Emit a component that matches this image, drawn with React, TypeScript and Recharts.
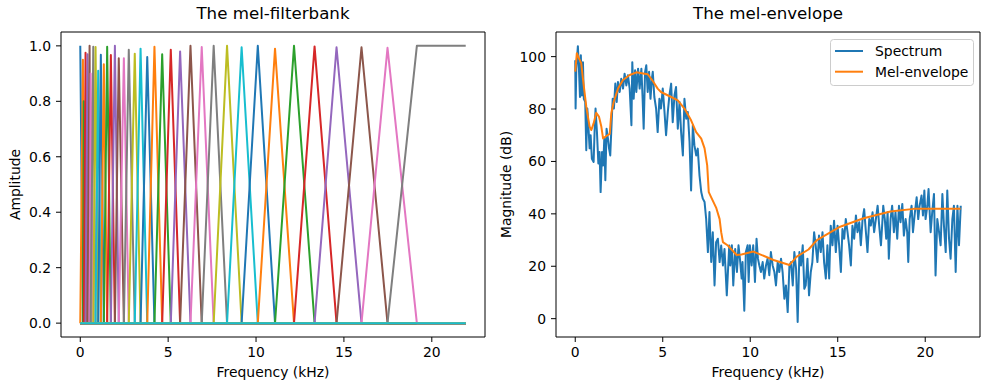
import React from 'react';
import { LineChart, Line, XAxis, YAxis, Legend } from 'recharts';

// ---------------- data ----------------
const TAB10 = ['#1f77b4', '#ff7f0e', '#2ca02c', '#d62728', '#9467bd', '#8c564b', '#e377c2', '#7f7f7f', '#bcbd22', '#17becf'];

// mel-filterbank: centre frequency (kHz) and peak height of each triangular filter
const filterCenters = [
  0, 0.15, 0.2, 0.3, 0.41, 0.53, 0.59, 0.74, 0.87, 1.02,
  1.17, 1.34, 1.53, 1.74, 1.97, 2.19, 2.48, 2.76, 3.1, 3.43,
  3.81, 4.22, 4.66, 5.15, 5.68, 6.27, 6.91, 7.59, 8.35, 9.18,
  10.1, 11.08, 12.16, 13.33, 14.58, 16.0, 17.48, 19.15,
];
const filterPeaks = [
  1.0, 0.95, 0.8, 0.975, 0.97, 1.0, 0.9, 0.997, 0.996, 0.91,
  0.968, 0.934, 0.997, 0.967, 1.0, 0.955, 0.955, 0.986, 0.972, 0.99,
  0.96, 0.997, 0.97, 0.986, 0.98, 1.0, 0.996, 1.0, 1.0, 0.995,
  1.0, 0.99, 1.0, 0.998, 0.995, 0.995, 0.993, 1.0,
];
const filterbankMaxFreq = 21.93; // kHz, last frequency bin of the filterbank plot
const emptyFilterCount = 2; // filters that are zero everywhere

// spectrum (kHz, dB)
const specFreq = [
  0.0, 0.02, 0.06, 0.15, 0.21, 0.27, 0.32, 0.38, 0.44, 0.49,
  0.57, 0.63, 0.69, 0.76, 0.82, 0.88, 0.95, 1.05, 1.11, 1.16,
  1.24, 1.32, 1.39, 1.45, 1.53, 1.6, 1.66, 1.72, 1.79, 1.87,
  1.93, 2.0, 2.08, 2.14, 2.21, 2.29, 2.37, 2.44, 2.54, 2.63,
  2.73, 2.82, 2.92, 3.01, 3.11, 3.21, 3.26, 3.34, 3.42, 3.49,
  3.59, 3.68, 3.78, 3.85, 3.91, 3.99, 4.06, 4.14, 4.22,
  4.3, 4.38, 4.43, 4.52, 4.62, 4.71, 4.81, 4.9, 5.0, 5.1,
  5.19, 5.29, 5.38, 5.48, 5.57, 5.67, 5.76, 5.86, 5.96, 6.05,
  6.15, 6.24, 6.34, 6.43, 6.53, 6.62, 6.72, 6.81, 6.91, 7.0,
  7.1, 7.2, 7.29, 7.39, 7.48, 7.58, 7.67, 7.77, 7.86, 7.96,
  8.05, 8.15, 8.25, 8.34, 8.44, 8.53, 8.66,
  8.8, 8.86, 8.95, 9.03, 9.14, 9.24, 9.33, 9.41, 9.51, 9.56,
  9.66, 9.75, 9.85, 9.91, 9.98, 10.08, 10.17, 10.27, 10.36, 10.44,
  10.52, 10.61, 10.71, 10.8, 10.9, 10.99, 11.09, 11.18, 11.28, 11.38,
  11.47, 11.57, 11.66, 11.76, 11.85, 11.95, 12.04, 12.14, 12.24, 12.33,
  12.43, 12.52, 12.62, 12.71, 12.81, 12.9, 13.0, 13.09,
  13.17, 13.27, 13.36, 13.46, 13.55, 13.65, 13.74, 13.84, 13.93, 14.03,
  14.13, 14.22, 14.32, 14.41, 14.51, 14.6, 14.7, 14.79, 14.89, 14.99,
  15.08, 15.18, 15.27, 15.37, 15.46, 15.56, 15.65, 15.75, 15.84, 15.94,
  16.04, 16.13, 16.23, 16.32, 16.42, 16.51, 16.61, 16.7, 16.8, 16.89,
  16.99, 17.08, 17.18, 17.28, 17.37, 17.47, 17.56,
  17.6, 17.69, 17.77, 17.85, 17.92, 18.02, 18.11, 18.21, 18.3, 18.4,
  18.5, 18.59, 18.69, 18.78, 18.88, 18.97, 19.03, 19.11, 19.22, 19.3,
  19.41, 19.51, 19.6, 19.68, 19.79, 19.87, 19.95, 20.02, 20.12, 20.19,
  20.31, 20.4, 20.5, 20.59, 20.69, 20.79, 20.88, 20.98, 21.07, 21.17,
  21.26, 21.36, 21.45, 21.55, 21.64, 21.74, 21.84, 21.93, 22.03,
];
const specDb = [
  98.6, 80.2, 95.4, 104, 95.4, 84.6, 100.5, 85.2, 97.9, 83.9,
  82.7, 64.3, 80.2, 72.5, 65, 70, 61, 59.8, 72.5, 80.2,
  71.2, 59.2, 63.6, 48.3, 63.6, 58.5, 68.7, 52.8, 72.5, 68.7,
  65, 62.3, 75, 83.9, 80.2, 89.7, 82.7, 90.3, 86.5, 91.6,
  87.8, 93.5, 89, 92.9, 87.8, 73.8, 97.9, 83.9, 94.8, 86.5,
  95.4, 87.8, 95.4, 83.9, 72.5, 94.2, 96.7, 86.5, 94.2,
  83.9, 91.6, 94.2, 84.6, 80.2, 71.2, 83.9, 80.2, 87.8, 78.9,
  70, 78.9, 85.2, 89.7, 75, 85.2, 88.4, 72.5, 82.7, 71.2,
  62.3, 83.9, 76.3, 78.9, 67.5, 48.9, 73.8, 66.2, 62.3, 64.9,
  54.7, 48.3, 45.8, 44.5, 38.2, 25.4, 40.7, 21.6, 33, 12.7,
  29.2, 30.5, 21.6, 27.9, 20.3, 26.6, 8.9,
  27.9, 20.3, 28, 12.7, 26.6, 17.8, 28, 22.9, 15.3, 21.6,
  3, 25.4, 28, 14, 28, 20.3, 28, 14, 30.5, 22.9,
  20.3, 17.8, 21.6, 15.3, 20.3, 22.9, 16.6, 25.4, 20.3, 17.8,
  12.7, 21.6, 17.8, 22.9, 17.8, 7.6, 12.7, 2.5, 20.3, 21.6,
  12.7, 25.4, 19, -1.3, 25.4, 20.3, 28, 11.4,
  12.7, 22.9, 8.9, 17.8, 21.6, 33, 28, 21.6, 31.7, 25.4,
  33, 21.6, 15.3, 28, 15.3, 35.5, 28, 37.4, 25.4, 35.5,
  28, 17.8, 34.2, 30.5, 38, 33, 28, 20.3, 35.5, 30.5,
  39.4, 33, 36.8, 28, 38, 41.8, 33, 25.4, 38, 35.5,
  40.6, 33, 38, 43.1, 35.5, 28, 38,
  43.1, 38, 30.5, 40.6, 22.9, 38, 43.1, 33, 40.6, 30.5,
  43.1, 36.8, 43.8, 31.7, 38, 33, 21.6, 38, 43.1, 33,
  40.6, 46.3, 38, 43.1, 47, 39.4, 48.9, 38, 43.1, 49.5,
  33, 40.6, 47.6, 16.5, 38, 33, 28, 47.6, 35.5, 25.4,
  48.9, 30.5, 22.9, 38, 43.1, 17.8, 43.1, 28, 43.1,
];

// mel-envelope (kHz, dB)
const envFreq = [
  0.0, 0.09, 0.2, 0.34, 0.47, 0.63, 0.82, 0.92, 1.05, 1.2,
  1.36, 1.49, 1.59, 1.78, 1.97, 2.06, 2.2, 2.45, 2.73, 3.11,
  3.5, 3.88, 4.14, 4.45, 4.71, 4.9, 5.48, 5.86, 6.24, 6.62,
  6.91, 7.2, 7.39, 7.54, 7.63, 7.77, 8.05, 8.25, 8.34, 8.44,
  8.72, 9.22, 9.5, 10.18, 11.33, 12.24, 12.66, 13.33, 13.81, 15.14,
  16.48, 18.01, 19.35, 22.02,
];
const envDb = [
  94.3, 101.3, 99.5, 97.5, 89.8, 80.9, 73.3, 72, 74.5, 78.6,
  77, 73.3, 68.8, 69.7, 70.5, 78.4, 82.8, 87.9, 91.1, 93,
  94, 93.6, 93.3, 90.5, 87.8, 86.5, 84.6, 83.3, 80.2, 75.7,
  71.2, 68.7, 65, 58.5, 48.3, 46.3, 42.4, 38, 33, 29.2,
  27.9, 24.3, 24.5, 25.6, 22.4, 20.5, 23.7, 26.4, 30, 35.1,
  38.3, 40.9, 41.9, 41.9,
];

const freqTicks = [0, 5, 10, 15, 20];
const ampTicks = [0, 0.2, 0.4, 0.6, 0.8, 1.0];
const dbTicks = [0, 20, 40, 60, 80, 100];

const titles = ['The mel-filterbank', 'The mel-envelope'];
const xLabel = 'Frequency (kHz)';
const yLabels = ['Amplitude', 'Magnitude (dB)'];
const seriesNames = ['Spectrum', 'Mel-envelope'];

// ---------------- layout ----------------
const FONT = "'DejaVu Sans', sans-serif";
const CW = 495;
const CH = 390;
const PLOT_LEFT = 61;
const PLOT_RIGHT = 485;
const PLOT_TOP = 32;
const PLOT_BOTTOM = 337;
const TICK_FS = 13.9;
const TITLE_FS = 16.67;

type Pt = { x: number; y: number };

function buildFilters(): Pt[][] {
  const n = filterCenters.length;
  const out: Pt[][] = [];
  for (let i = 0; i < n; i++) {
    const c = filterCenters[i];
    const h = filterPeaks[i];
    if (i === 0) {
      out.push([{ x: c, y: h }, { x: filterCenters[1], y: 0 }, { x: filterbankMaxFreq, y: 0 }]);
    } else if (i === n - 1) {
      out.push([{ x: 0, y: 0 }, { x: filterCenters[i - 1], y: 0 }, { x: c, y: h }, { x: filterbankMaxFreq, y: h }]);
    } else {
      out.push([
        { x: 0, y: 0 },
        { x: filterCenters[i - 1], y: 0 },
        { x: c, y: h },
        { x: filterCenters[i + 1], y: 0 },
        { x: filterbankMaxFreq, y: 0 },
      ]);
    }
  }
  for (let k = 0; k < emptyFilterCount; k++) out.push([{ x: 0, y: 0 }, { x: filterbankMaxFreq, y: 0 }]);
  return out;
}

const filterSeries = buildFilters();
const spectrumData: Pt[] = specFreq.map((x, i) => ({ x, y: specDb[i] }));
const envelopeData: Pt[] = envFreq.map((x, i) => ({ x, y: envDb[i] }));

const tickStyle = { fontSize: TICK_FS, fill: '#000', fontFamily: FONT };

const TitleText = ({ text }: { text: string }) => (
  <text x={(PLOT_LEFT + PLOT_RIGHT) / 2} y={PLOT_TOP - 13} textAnchor="middle" fontSize={TITLE_FS} fontFamily={FONT} fill="#000">
    {text}
  </text>
);

const XLabelText = ({ text }: { text: string }) => (
  <text x={(PLOT_LEFT + PLOT_RIGHT) / 2} y={377} textAnchor="middle" fontSize={TICK_FS} fontFamily={FONT} fill="#000">
    {text}
  </text>
);

const YLabelText = ({ text, bx }: { text: string; bx: number }) => {
  const cy = (PLOT_TOP + PLOT_BOTTOM) / 2;
  return (
    <text x={bx} y={cy} transform={`rotate(-90 ${bx} ${cy})`} textAnchor="middle" fontSize={TICK_FS} fontFamily={FONT} fill="#000">
      {text}
    </text>
  );
};

const LegendBox = (props: any) => {
  const payload = (props && props.payload) || [];
  const items = seriesNames.map((name, i) => {
    const p = payload.find((e: any) => e.value === name);
    return { name, color: p ? p.color : TAB10[i] };
  });
  return (
    <svg width={144} height={47} style={{ display: 'block' }}>
      <rect x={0.5} y={0.5} width={143} height={46} rx={3} ry={3} fill="#ffffff" fillOpacity={0.8} stroke="#cccccc" strokeWidth={1} />
      {items.map((it, i) => {
        const cy = 12 + i * 20.7;
        return (
          <g key={it.name}>
            <line x1={5} x2={33} y1={cy} y2={cy} stroke={it.color} strokeWidth={2} />
            <text x={45} y={cy + 5} fontSize={TICK_FS} fontFamily={FONT} fill="#000">
              {it.name}
            </text>
          </g>
        );
      })}
    </svg>
  );
};

const axisLineStyle = { stroke: '#000', strokeWidth: 1 };

const FilterbankChart = () => (
  <LineChart width={CW} height={CH} margin={{ top: PLOT_TOP - 1, right: CW - PLOT_RIGHT - 1, bottom: 0, left: 0 }} style={{ fontFamily: FONT }}>
    <XAxis
      type="number"
      dataKey="x"
      domain={[-1.0965, 23.0265]}
      allowDataOverflow
      ticks={freqTicks}
      interval={0}
      height={CH - PLOT_BOTTOM}
      tick={tickStyle}
      tickSize={5}
      tickMargin={5}
      tickLine={axisLineStyle}
      axisLine={axisLineStyle}
      label={<XLabelText text={xLabel} />}
    />
    <XAxis
      xAxisId="top"
      orientation="top"
      type="number"
      dataKey="x"
      domain={[-1.0965, 23.0265]}
      allowDataOverflow
      ticks={freqTicks}
      height={1}
      tick={false}
      tickLine={false}
      axisLine={axisLineStyle}
      label={<TitleText text={titles[0]} />}
    />
    <YAxis
      type="number"
      domain={[-0.05, 1.05]}
      allowDataOverflow
      ticks={ampTicks}
      interval={0}
      width={PLOT_LEFT}
      tick={tickStyle}
      tickSize={5}
      tickMargin={5}
      tickLine={axisLineStyle}
      axisLine={axisLineStyle}
      tickFormatter={(v: number) => v.toFixed(1)}
      label={<YLabelText text={yLabels[0]} bx={20.2} />}
    />
    <YAxis
      yAxisId="right"
      orientation="right"
      type="number"
      domain={[-0.05, 1.05]}
      allowDataOverflow
      ticks={ampTicks}
      width={1}
      tick={false}
      tickLine={false}
      axisLine={axisLineStyle}
    />
    {filterSeries.map((pts, i) => (
      <Line
        key={i}
        data={pts}
        dataKey="y"
        type="linear"
        stroke={TAB10[i % 10]}
        strokeWidth={2}
        strokeLinejoin="round"
        dot={false}
        activeDot={false}
        isAnimationActive={false}
        legendType="none"
      />
    ))}
  </LineChart>
);

const EnvelopeChart = () => (
  <LineChart width={CW} height={CH} margin={{ top: PLOT_TOP - 1, right: CW - PLOT_RIGHT - 1, bottom: 0, left: 0 }} style={{ fontFamily: FONT }}>
    <XAxis
      type="number"
      dataKey="x"
      domain={[-1.1, 23.13]}
      allowDataOverflow
      ticks={freqTicks}
      interval={0}
      height={CH - PLOT_BOTTOM}
      tick={tickStyle}
      tickSize={5}
      tickMargin={5}
      tickLine={axisLineStyle}
      axisLine={axisLineStyle}
      label={<XLabelText text={xLabel} />}
    />
    <XAxis
      xAxisId="top"
      orientation="top"
      type="number"
      dataKey="x"
      domain={[-1.1, 23.13]}
      allowDataOverflow
      ticks={freqTicks}
      height={1}
      tick={false}
      tickLine={false}
      axisLine={axisLineStyle}
      label={<TitleText text={titles[1]} />}
    />
    <YAxis
      type="number"
      domain={[-7, 109.4]}
      allowDataOverflow
      ticks={dbTicks}
      interval={0}
      width={PLOT_LEFT}
      tick={tickStyle}
      tickSize={5}
      tickMargin={5}
      tickLine={axisLineStyle}
      axisLine={axisLineStyle}
      label={<YLabelText text={yLabels[1]} bx={16.1} />}
    />
    <YAxis
      yAxisId="right"
      orientation="right"
      type="number"
      domain={[-7, 109.4]}
      allowDataOverflow
      ticks={dbTicks}
      width={1}
      tick={false}
      tickLine={false}
      axisLine={axisLineStyle}
    />
    <Line
      name={seriesNames[0]}
      data={spectrumData}
      dataKey="y"
      type="linear"
      stroke={TAB10[0]}
      strokeWidth={2}
      strokeLinejoin="round"
      dot={false}
      activeDot={false}
      isAnimationActive={false}
    />
    <Line
      name={seriesNames[1]}
      data={envelopeData}
      dataKey="y"
      type="linear"
      stroke={TAB10[1]}
      strokeWidth={2}
      strokeLinejoin="round"
      dot={false}
      activeDot={false}
      isAnimationActive={false}
    />
    <Legend
      layout="vertical"
      align="center"
      verticalAlign="middle"
      wrapperStyle={{ left: 335, top: 39, width: 144, height: 47 }}
      content={<LegendBox />}
    />
  </LineChart>
);

export default function App() {
  return (
    <div style={{ position: 'absolute', left: 0, top: 0, width: 990, height: 390, background: '#fff', fontFamily: FONT }}>
      <div style={{ position: 'absolute', left: 0, top: 0, width: CW, height: CH }}>
        <FilterbankChart />
      </div>
      <div style={{ position: 'absolute', left: CW, top: 0, width: CW, height: CH }}>
        <EnvelopeChart />
      </div>
    </div>
  );
}
